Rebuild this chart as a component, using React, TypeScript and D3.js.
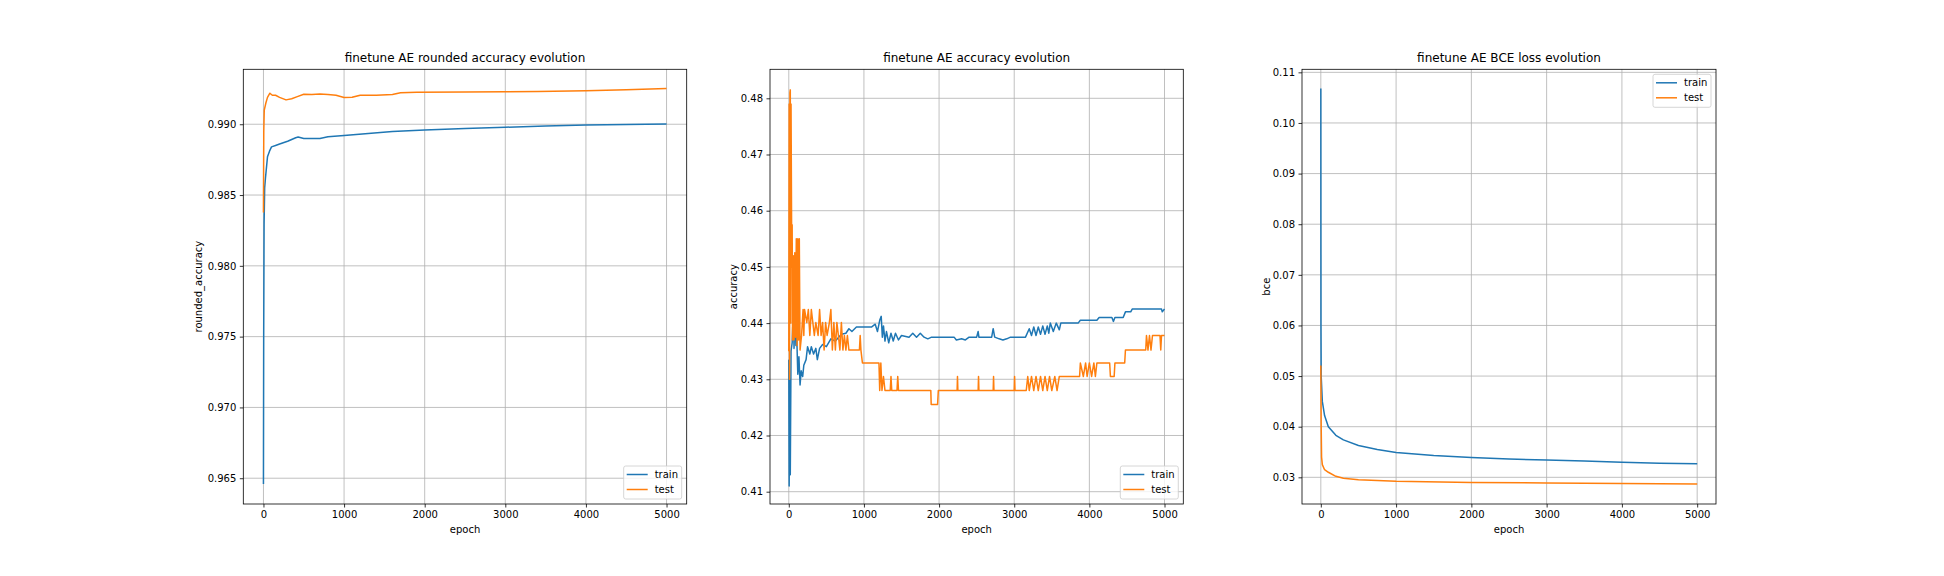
import { useEffect, useRef } from "react";
import * as d3 from "d3";

type Pt = [number, number];

// panel 1: rounded accuracy
const roundTrain: Pt[] = [
  [0, 0.9646], [3, 0.975], [8, 0.983], [15, 0.9855], [25, 0.9862], [50, 0.9877],
  [75, 0.9881], [100, 0.9884], [150, 0.9885], [200, 0.9886], [300, 0.9888],
  [400, 0.98905], [430, 0.9891], [500, 0.989], [700, 0.989], [800, 0.98912],
  [1000, 0.9892], [1300, 0.98935], [1600, 0.98948], [2000, 0.9896],
  [2500, 0.9897], [3000, 0.98979], [3500, 0.98988], [4000, 0.98995],
  [4500, 0.98998], [5000, 0.99002],
];
const roundTest: Pt[] = [
  [0, 0.98377], [4, 0.9895], [10, 0.991], [30, 0.9915], [50, 0.9919],
  [80, 0.99219], [110, 0.99205], [150, 0.99205], [200, 0.9919], [280, 0.99172],
  [350, 0.9918], [420, 0.99195], [500, 0.99212], [600, 0.9921], [700, 0.99214],
  [800, 0.9921], [900, 0.99205], [1000, 0.99189], [1100, 0.9919], [1200, 0.99205],
  [1400, 0.99205], [1600, 0.9921], [1700, 0.99222], [1900, 0.99226],
  [2500, 0.99228], [3000, 0.99229], [3400, 0.99232], [4000, 0.99236],
  [4500, 0.99243], [5000, 0.99252],
];

// panel 2: accuracy
const accTrain: Pt[] = [
  [0, 0.4335], [5, 0.411], [12, 0.43], [20, 0.413], [30, 0.435], [45, 0.4365],
  [60, 0.4424], [70, 0.4355], [80, 0.442], [95, 0.436], [105, 0.438], [120, 0.4309],
  [135, 0.434], [150, 0.429], [165, 0.4315], [185, 0.4305], [200, 0.4325],
  [230, 0.4335], [250, 0.4358], [280, 0.4345], [300, 0.4358], [330, 0.4345],
  [360, 0.4355], [380, 0.4335], [410, 0.4355], [450, 0.4362], [500, 0.4358],
  [560, 0.4372], [620, 0.4368], [700, 0.4380], [760, 0.4382], [800, 0.4390],
  [840, 0.4385], [900, 0.4393], [1000, 0.4393], [1100, 0.4393], [1150, 0.4398],
  [1180, 0.4385], [1210, 0.4405], [1230, 0.4412], [1245, 0.4375], [1260, 0.4395],
  [1280, 0.4368], [1300, 0.4385], [1330, 0.4365], [1360, 0.4382], [1390, 0.4368],
  [1420, 0.4382], [1460, 0.4370], [1500, 0.4378], [1600, 0.4375], [1650, 0.4382],
  [1700, 0.4375], [1750, 0.4382], [1800, 0.4375], [1850, 0.4372], [1900, 0.4375],
  [2200, 0.4375], [2230, 0.4370], [2300, 0.4372], [2350, 0.4370], [2400, 0.4375],
  [2500, 0.4375], [2520, 0.4385], [2530, 0.4375], [2700, 0.4375], [2720, 0.4390],
  [2740, 0.4375], [2800, 0.4372], [2850, 0.4370], [2900, 0.4372], [2950, 0.4375],
  [3150, 0.4375], [3200, 0.4390], [3230, 0.4378], [3260, 0.4393], [3290, 0.4378],
  [3320, 0.4393], [3350, 0.4380], [3380, 0.4395], [3410, 0.4380], [3440, 0.4395],
  [3460, 0.4382], [3480, 0.4400], [3520, 0.4385], [3560, 0.4400], [3600, 0.4388],
  [3620, 0.4400], [3850, 0.4400], [3880, 0.4405], [4100, 0.4405], [4130, 0.4410],
  [4300, 0.4410], [4320, 0.4403], [4340, 0.4410], [4450, 0.4410], [4480, 0.4420],
  [4550, 0.4420], [4570, 0.4425], [4960, 0.4425], [4970, 0.4420], [5000, 0.4425],
];
const accTest: Pt[] = [
  [0, 0.435], [5, 0.479], [10, 0.43], [15, 0.481], [20, 0.4815], [25, 0.44],
  [30, 0.479], [40, 0.45], [45, 0.4575], [50, 0.437], [60, 0.452], [70, 0.437],
  [80, 0.4525], [90, 0.4375], [100, 0.455], [110, 0.436], [120, 0.455],
  [130, 0.437], [140, 0.455], [150, 0.4352], [170, 0.4378], [190, 0.4424],
  [200, 0.4378], [210, 0.4424], [240, 0.4401], [260, 0.4424], [280, 0.4378],
  [300, 0.4424], [320, 0.4401], [340, 0.4378], [360, 0.4401], [390, 0.4378],
  [410, 0.4424], [430, 0.4378], [450, 0.4401], [470, 0.4352], [490, 0.4401],
  [510, 0.4378], [540, 0.4401], [560, 0.4424], [580, 0.4352], [600, 0.4401],
  [620, 0.4352], [640, 0.4401], [660, 0.4378], [680, 0.4352], [700, 0.4401],
  [720, 0.4352], [740, 0.4378], [760, 0.4352], [780, 0.4378], [800, 0.4352],
  [940, 0.4352], [950, 0.4378], [960, 0.4352], [980, 0.4329], [1200, 0.4329],
  [1210, 0.4280], [1225, 0.4329], [1240, 0.4280], [1260, 0.4305], [1280, 0.4280],
  [1350, 0.4280], [1360, 0.4305], [1370, 0.4280], [1440, 0.4280], [1450, 0.4305],
  [1460, 0.4280], [1890, 0.4280], [1895, 0.4255], [1980, 0.4255], [1990, 0.4280],
  [2240, 0.4280], [2245, 0.4305], [2250, 0.4280], [2520, 0.4280], [2525, 0.4305],
  [2530, 0.4280], [2720, 0.4280], [2725, 0.4305], [2730, 0.4280], [3000, 0.4280],
  [3005, 0.4305], [3010, 0.4280], [3160, 0.4280], [3180, 0.4305], [3200, 0.4280],
  [3230, 0.4305], [3260, 0.4280], [3290, 0.4305], [3320, 0.4280], [3350, 0.4305],
  [3380, 0.4280], [3410, 0.4305], [3440, 0.4280], [3470, 0.4305], [3500, 0.4280],
  [3540, 0.4305], [3570, 0.4280], [3600, 0.4305], [3870, 0.4305], [3880, 0.4329],
  [3920, 0.4305], [3950, 0.4329], [3970, 0.4305], [4000, 0.4329], [4030, 0.4305],
  [4060, 0.4329], [4080, 0.4305], [4100, 0.4329], [4270, 0.4329], [4280, 0.4305],
  [4330, 0.4305], [4340, 0.4329], [4470, 0.4329], [4480, 0.4352], [4750, 0.4352],
  [4760, 0.4378], [4780, 0.4352], [4800, 0.4378], [4820, 0.4352], [4840, 0.4378],
  [4940, 0.4378], [4950, 0.4352], [4960, 0.4378], [5000, 0.4378],
];

// panel 3: bce loss
const bceTrain: Pt[] = [
  [0, 0.1068], [2, 0.06], [5, 0.05], [20, 0.045], [50, 0.0422], [100, 0.04],
  [200, 0.0383], [300, 0.0374], [500, 0.0363], [750, 0.0355], [1000, 0.0349],
  [1500, 0.0343], [2000, 0.0339], [2500, 0.0336], [3000, 0.0334],
  [3500, 0.0332], [4000, 0.0330], [4500, 0.0328], [5000, 0.0327],
];
const bceTest: Pt[] = [
  [0, 0.0521], [5, 0.040], [10, 0.034], [20, 0.0325], [50, 0.0315],
  [100, 0.031], [200, 0.0302], [300, 0.0298], [500, 0.0295], [1000, 0.0292],
  [2000, 0.0290], [3000, 0.0289], [4000, 0.0288], [5000, 0.0287],
];

const xTicks = [0, 1000, 2000, 3000, 4000, 5000];

interface Panel {
  title: string;
  ylabel: string;
  left: number;
  right: number;
  labelGap: number;
  yDomain: [number, number];
  yTicks: number[];
  fmt: string;
  train: Pt[];
  test: Pt[];
  legend: "lr" | "ur";
}

const panels: Panel[] = [
  {
    title: "finetune AE rounded accuracy evolution",
    ylabel: "rounded_accuracy",
    left: 243.3, right: 686.7, labelGap: 45,
    yDomain: [0.96318, 0.99388],
    yTicks: [0.965, 0.97, 0.975, 0.98, 0.985, 0.99],
    fmt: ".3f",
    train: roundTrain, test: roundTest, legend: "lr",
  },
  {
    title: "finetune AE accuracy evolution",
    ylabel: "accuracy",
    left: 770, right: 1183.3, labelGap: 37,
    yDomain: [0.40781, 0.48516],
    yTicks: [0.41, 0.42, 0.43, 0.44, 0.45, 0.46, 0.47, 0.48],
    fmt: ".2f",
    train: accTrain, test: accTest, legend: "lr",
  },
  {
    title: "finetune AE BCE loss evolution",
    ylabel: "bce",
    left: 1302, right: 1716, labelGap: 36,
    yDomain: [0.02473, 0.1106],
    yTicks: [0.03, 0.04, 0.05, 0.06, 0.07, 0.08, 0.09, 0.1, 0.11],
    fmt: ".2f",
    train: bceTrain, test: bceTest, legend: "ur",
  },
];

const TOP = 69.3;
const BOTTOM = 504;
const BLUE = "#1f77b4";
const ORANGE = "#ff7f0e";
const FONT = "DejaVu Sans";

export default function App() {
  const svgRef = useRef<SVGSVGElement>(null);

  useEffect(() => {
    if (!svgRef.current) return;
    const svg = d3.select(svgRef.current);
    svg.selectAll("*").remove();
    svg.append("rect").attr("width", 1944).attr("height", 576).attr("fill", "#fff");

    panels.forEach((p) => {
      const x = d3.scaleLinear().domain([-250, 5250]).range([p.left, p.right]);
      const y = d3.scaleLinear().domain(p.yDomain).range([BOTTOM, TOP]);
      const g = svg.append("g");

      // grid
      xTicks.forEach((t) =>
        g.append("line").attr("x1", x(t)).attr("x2", x(t)).attr("y1", TOP).attr("y2", BOTTOM)
          .attr("stroke", "#b0b0b0").attr("stroke-width", 0.8));
      p.yTicks.forEach((t) =>
        g.append("line").attr("x1", p.left).attr("x2", p.right).attr("y1", y(t)).attr("y2", y(t))
          .attr("stroke", "#b0b0b0").attr("stroke-width", 0.8));

      const clipId = `clip-${p.ylabel}`;
      svg.append("clipPath").attr("id", clipId).append("rect")
        .attr("x", p.left).attr("y", TOP).attr("width", p.right - p.left).attr("height", BOTTOM - TOP);

      const line = d3.line<Pt>().x((d) => x(d[0])).y((d) => y(d[1]));
      [[p.train, BLUE], [p.test, ORANGE]].forEach(([data, c]) =>
        g.append("path").attr("d", line(data as Pt[])).attr("fill", "none")
          .attr("stroke", c as string).attr("stroke-width", 1.5)
          .attr("stroke-linejoin", "round").attr("clip-path", `url(#${clipId})`));

      // axes
      const xa = g.append("g").attr("transform", `translate(0,${BOTTOM})`)
        .call(d3.axisBottom(x).tickValues(xTicks).tickSize(3.5).tickPadding(3.5).tickFormat(d3.format("d")));
      const ya = g.append("g").attr("transform", `translate(${p.left},0)`)
        .call(d3.axisLeft(y).tickValues(p.yTicks).tickSize(3.5).tickPadding(3.5).tickFormat(d3.format(p.fmt)));
      [xa, ya].forEach((a) => {
        a.select(".domain").remove();
        a.selectAll("line").attr("stroke", "#000").attr("stroke-width", 0.8);
        a.selectAll("text").attr("fill", "#000").style("font-size", "10px")
          .style("font-family", FONT);
      });

      g.append("rect").attr("x", p.left).attr("y", TOP).attr("width", p.right - p.left)
        .attr("height", BOTTOM - TOP).attr("fill", "none").attr("stroke", "#000").attr("stroke-width", 0.8);

      g.append("text").attr("x", (p.left + p.right) / 2).attr("y", TOP - 7.6)
        .attr("text-anchor", "middle").style("font-size", "12px").style("font-family", FONT)
        .text(p.title);
      g.append("text").attr("x", (p.left + p.right) / 2).attr("y", BOTTOM + 29)
        .attr("text-anchor", "middle").style("font-size", "10px").style("font-family", FONT)
        .text("epoch");
      g.append("text")
        .attr("transform", `translate(${p.left - p.labelGap + 3.5},${(TOP + BOTTOM) / 2}) rotate(-90)`)
        .attr("text-anchor", "middle").style("font-size", "10px").style("font-family", FONT)
        .text(p.ylabel);

      // legend
      const lw = 58, lh = 33;
      const lx = p.right - 5 - lw;
      const ly = p.legend === "lr" ? BOTTOM - 5 - lh : TOP + 5;
      const lg = g.append("g").attr("transform", `translate(${lx},${ly})`);
      lg.append("rect").attr("width", lw).attr("height", lh).attr("rx", 2)
        .attr("fill", "#fff").attr("fill-opacity", 0.8).attr("stroke", "#ccc").attr("stroke-width", 0.8);
      [["train", BLUE], ["test", ORANGE]].forEach(([name, c], i) => {
        const yy = 8.5 + i * 15;
        lg.append("line").attr("x1", 3).attr("x2", 24).attr("y1", yy).attr("y2", yy)
          .attr("stroke", c).attr("stroke-width", 1.5);
        lg.append("text").attr("x", 31).attr("y", yy + 3.6).style("font-size", "10px")
          .style("font-family", FONT).text(name);
      });
    });
  }, []);

  return (
    <svg ref={svgRef} width={1944} height={576}
      style={{ position: "absolute", left: 0, top: 0 }} />
  );
}
